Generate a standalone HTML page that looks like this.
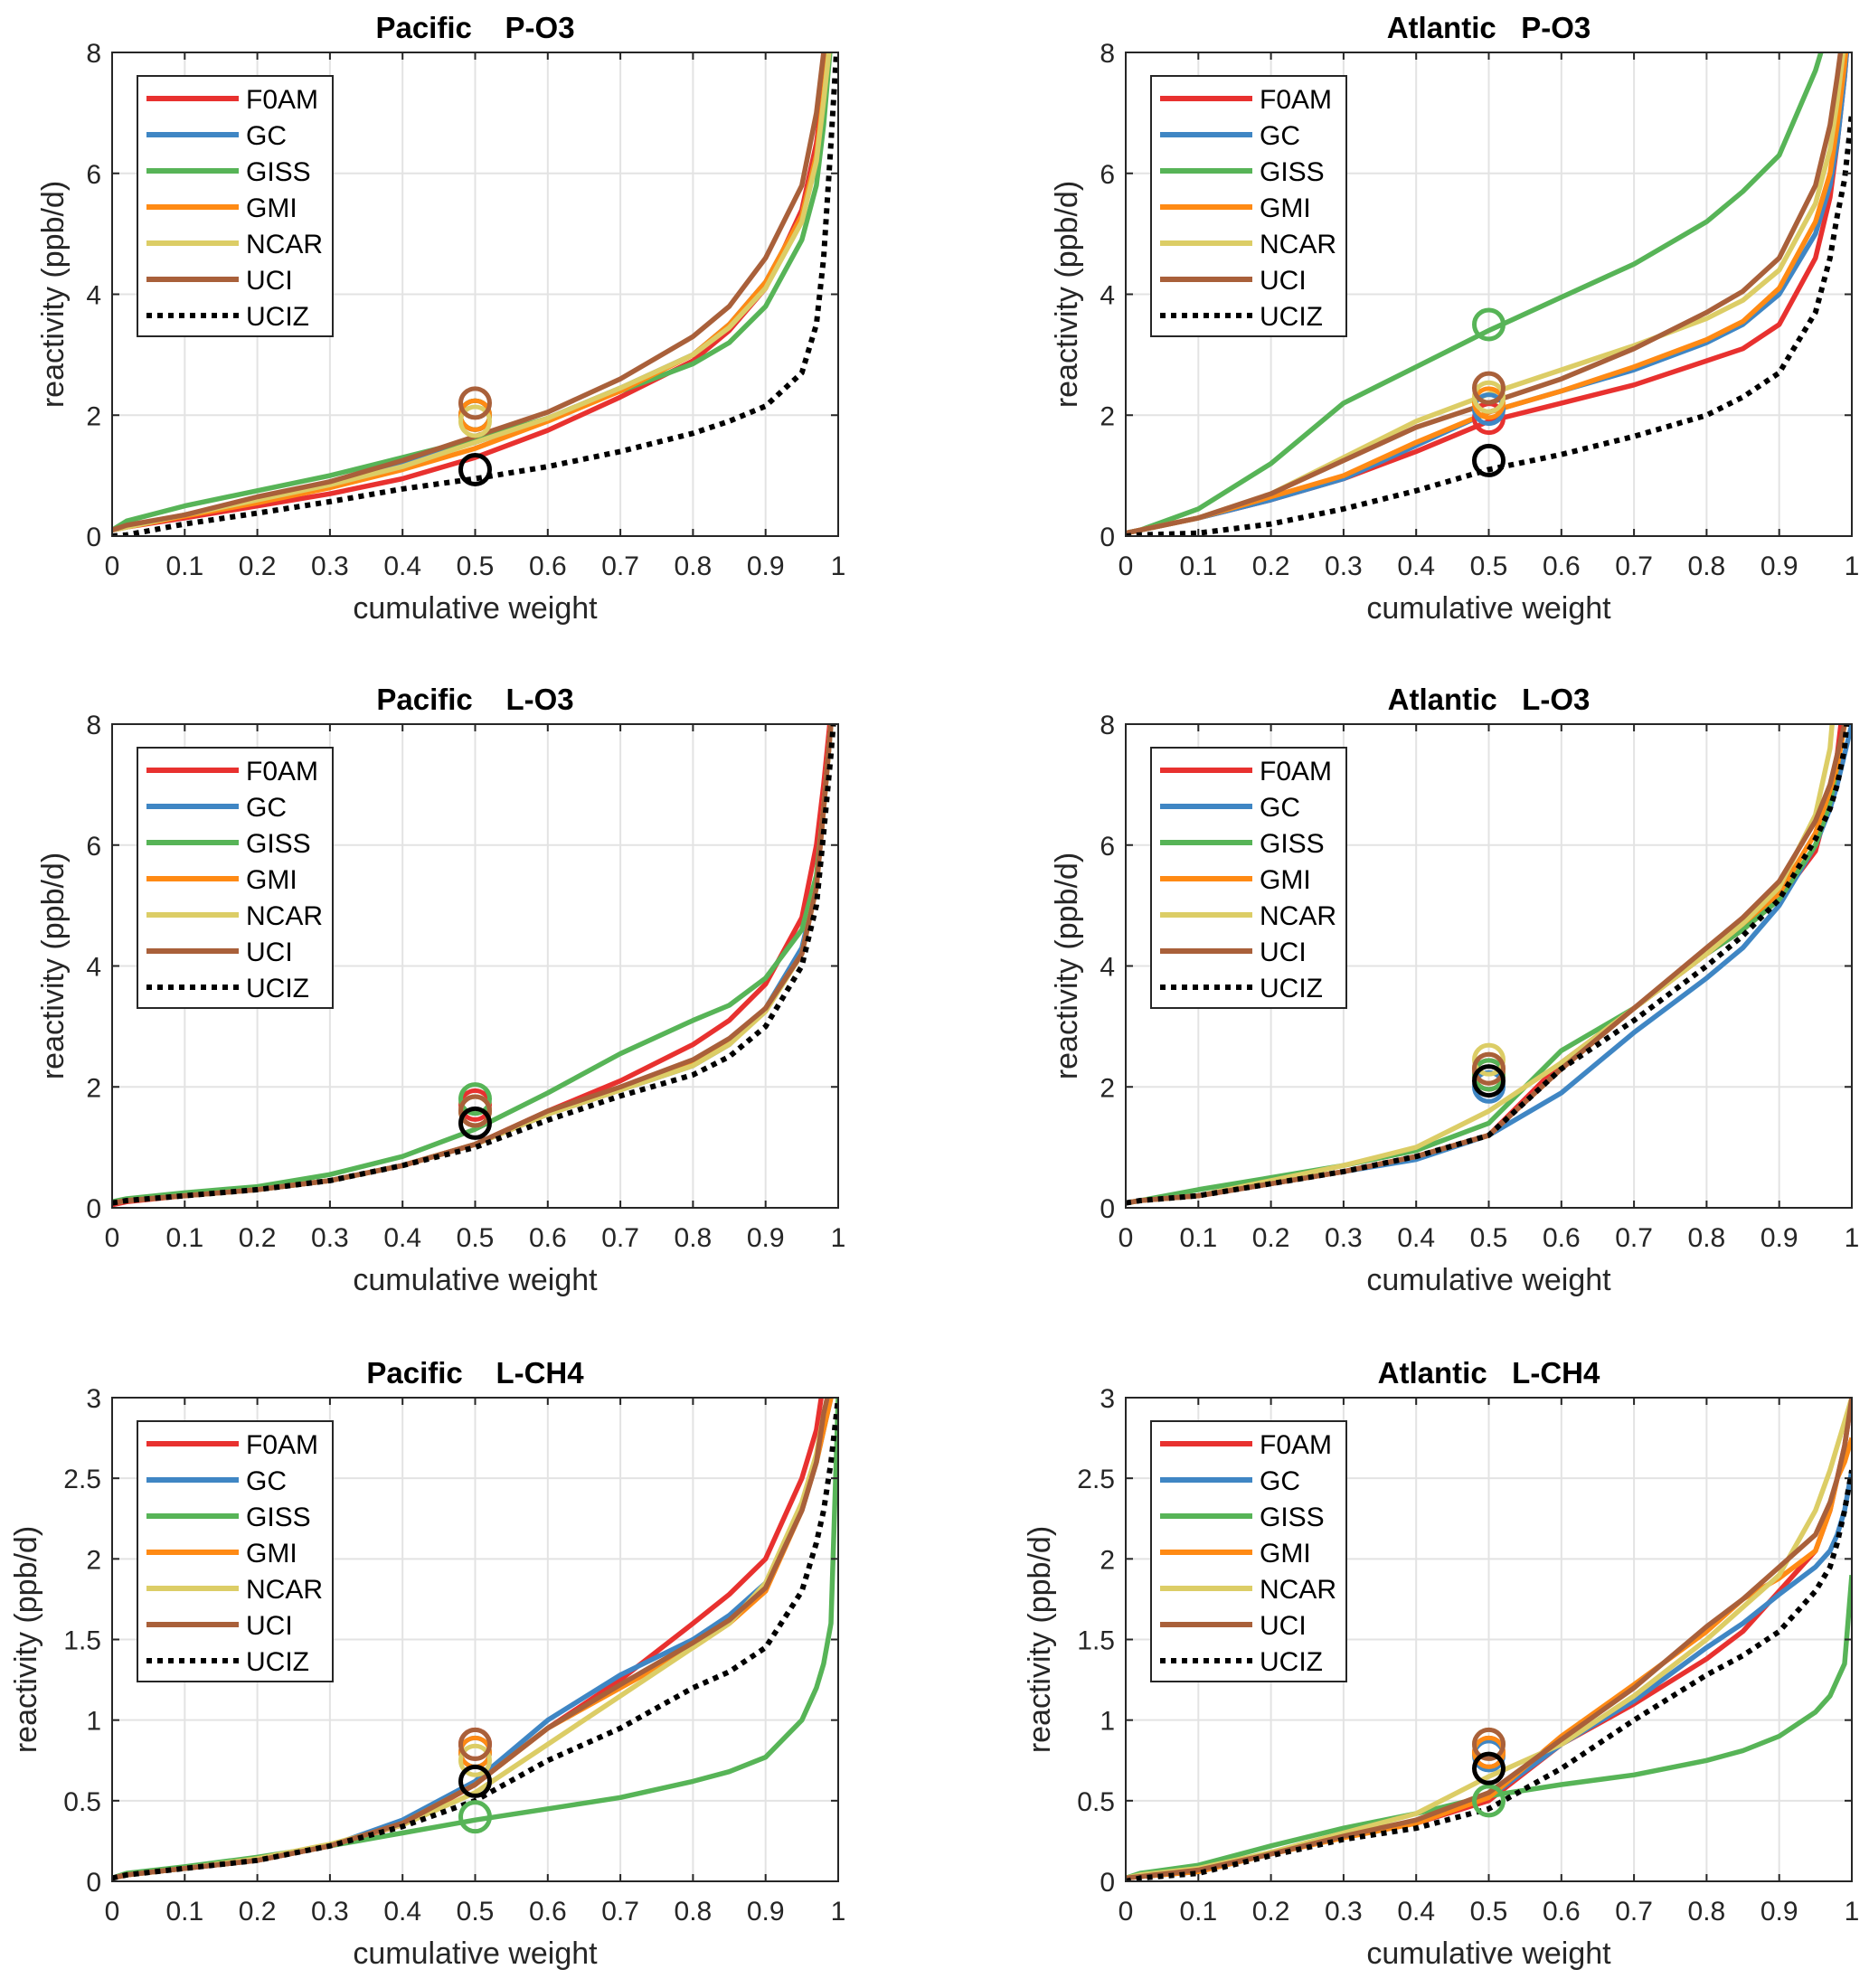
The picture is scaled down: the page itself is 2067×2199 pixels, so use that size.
<!DOCTYPE html>
<html><head><meta charset="utf-8"><style>
html,body{margin:0;padding:0;background:#fff}
svg{display:block;font-family:"Liberation Sans",Arial,sans-serif}
.pre{white-space:pre}
</style></head><body>
<svg id="fig" width="2067" height="2199" viewBox="0 0 2067 2199" xmlns="http://www.w3.org/2000/svg"></svg>
<script>
const xGrid=[0,0.02,0.1,0.2,0.3,0.4,0.5,0.6,0.7,0.8,0.85,0.9,0.95,0.97,0.98,0.99,1];
const seriesNames=["F0AM","GC","GISS","GMI","NCAR","UCI","UCIZ"];
const seriesColors=["#e8312f","#3f86c4","#57b457","#ff8a14","#dccd66","#a9603a","#000000"];
const xTicks=[0,0.1,0.2,0.3,0.4,0.5,0.6,0.7,0.8,0.9,1];
const xTickLabels=["0","0.1","0.2","0.3","0.4","0.5","0.6","0.7","0.8","0.9","1"];
const yTicksO3=[0,2,4,6,8];
const yTickLabelsO3=["0","2","4","6","8"];
const yTicksCH4=[0,0.5,1,1.5,2,2.5,3];
const yTickLabelsCH4=["0","0.5","1","1.5","2","2.5","3"];
const titles=["Pacific    P-O3","Atlantic   P-O3","Pacific    L-O3","Atlantic   L-O3","Pacific    L-CH4","Atlantic   L-CH4"];

const p1=[[0.1,0.15,0.3,0.5,0.7,0.95,1.3,1.75,2.3,2.9,3.4,4.1,5.4,6.5,7.4,8.5,9],
[0.1,0.15,0.35,0.6,0.9,1.2,1.55,1.95,2.45,3.0,3.5,4.2,5.3,6.3,7.2,8.3,9],
[0.1,0.25,0.5,0.75,1.0,1.3,1.6,1.95,2.4,2.85,3.2,3.8,4.9,5.8,6.8,8.2,9],
[0.1,0.15,0.33,0.55,0.8,1.1,1.45,1.9,2.4,3.0,3.5,4.2,5.3,6.3,7.3,8.4,9],
[0.1,0.15,0.35,0.6,0.85,1.15,1.55,1.95,2.45,3.0,3.45,4.1,5.2,6.2,7.2,8.3,9],
[0.1,0.18,0.35,0.65,0.9,1.25,1.65,2.05,2.6,3.3,3.8,4.6,5.8,7.0,8.0,9,9],
[0,0.02,0.2,0.38,0.57,0.78,0.95,1.15,1.4,1.7,1.9,2.15,2.7,3.5,4.6,6.5,8.5]];
const c1=[2.0,2.0,2.0,2.0,1.9,2.2,1.1];
const p2=[[0.05,0.1,0.3,0.6,0.95,1.4,1.9,2.2,2.5,2.9,3.1,3.5,4.6,5.6,6.5,7.6,9],
[0.05,0.1,0.3,0.6,0.95,1.5,2.05,2.4,2.75,3.2,3.5,4.0,5.0,5.8,6.5,7.6,9],
[0.05,0.1,0.45,1.2,2.2,2.8,3.4,3.95,4.5,5.2,5.7,6.3,7.7,8.5,9,9,9],
[0.05,0.1,0.3,0.65,1.0,1.55,2.05,2.4,2.8,3.25,3.55,4.1,5.2,6.0,6.8,7.8,9],
[0.05,0.1,0.3,0.7,1.3,1.9,2.35,2.75,3.15,3.6,3.9,4.4,5.5,6.4,7.2,8.2,9],
[0.05,0.1,0.3,0.7,1.25,1.8,2.2,2.6,3.1,3.7,4.05,4.6,5.8,6.8,7.6,8.5,9],
[0,0.02,0.05,0.2,0.45,0.75,1.1,1.35,1.65,2.0,2.3,2.7,3.7,4.6,5.3,5.9,7]];
const c2=[1.95,2.1,3.5,2.2,2.3,2.45,1.25];
const p3=[[0.05,0.1,0.2,0.3,0.45,0.7,1.05,1.6,2.1,2.7,3.1,3.7,4.8,6.0,7.0,8.2,9],
[0.08,0.12,0.2,0.3,0.45,0.7,1.05,1.55,1.95,2.35,2.7,3.3,4.3,5.3,6.6,8,9],
[0.1,0.15,0.25,0.35,0.55,0.85,1.3,1.9,2.55,3.1,3.35,3.8,4.6,5.5,6.6,8,9],
[0.08,0.12,0.2,0.3,0.45,0.7,1.05,1.55,1.95,2.4,2.75,3.3,4.2,5.3,6.6,8,9],
[0.08,0.12,0.2,0.3,0.45,0.7,1.05,1.55,1.95,2.35,2.7,3.25,4.2,5.3,6.6,8,9],
[0.08,0.12,0.2,0.3,0.45,0.7,1.05,1.6,2.0,2.45,2.8,3.3,4.2,5.3,6.6,8,9],
[0.08,0.12,0.2,0.3,0.45,0.7,1.0,1.45,1.85,2.2,2.5,3.0,4.0,5.0,6.2,7.5,9]];
const c3=[1.7,1.6,1.8,1.6,1.6,1.6,1.4];
const p4=[[0.08,0.12,0.2,0.4,0.6,0.85,1.2,2.4,3.3,4.2,4.6,5.1,5.9,6.8,7.5,8.5,9],
[0.08,0.12,0.2,0.4,0.6,0.8,1.2,1.9,2.9,3.8,4.3,5.0,6.0,6.6,7.0,7.5,8],
[0.08,0.12,0.3,0.5,0.7,0.95,1.4,2.6,3.3,4.2,4.6,5.1,6.0,6.7,7.3,8,9],
[0.08,0.12,0.2,0.4,0.6,0.85,1.2,2.3,3.3,4.2,4.7,5.2,6.2,6.9,7.3,8,9],
[0.08,0.12,0.2,0.45,0.7,1.0,1.6,2.4,3.3,4.2,4.7,5.3,6.5,7.6,9,9,9],
[0.08,0.12,0.2,0.4,0.6,0.85,1.2,2.3,3.3,4.3,4.8,5.4,6.4,7.0,7.5,8,9],
[0.08,0.12,0.2,0.4,0.6,0.85,1.2,2.3,3.1,4.0,4.5,5.1,6.1,6.6,7.0,7.6,9]];
const c4=[2.2,2.0,2.2,2.3,2.45,2.3,2.1];
const p5=[[0.02,0.04,0.08,0.13,0.22,0.35,0.6,0.95,1.25,1.6,1.78,2.0,2.5,2.8,3.1,3.2,3.2],
[0.02,0.04,0.08,0.13,0.22,0.38,0.62,1.0,1.28,1.5,1.65,1.85,2.3,2.6,2.8,3.0,3.2],
[0.02,0.05,0.09,0.15,0.22,0.3,0.38,0.45,0.52,0.62,0.68,0.77,1.0,1.2,1.35,1.6,3],
[0.02,0.04,0.08,0.13,0.22,0.36,0.6,0.95,1.2,1.45,1.6,1.8,2.3,2.6,2.8,3.0,3.2],
[0.02,0.04,0.08,0.14,0.23,0.35,0.55,0.85,1.15,1.45,1.6,1.85,2.35,2.65,2.9,3.1,3.2],
[0.02,0.04,0.08,0.13,0.22,0.36,0.6,0.95,1.22,1.48,1.62,1.82,2.3,2.6,2.9,3.1,3.2],
[0.02,0.04,0.08,0.13,0.22,0.34,0.5,0.75,0.95,1.2,1.3,1.45,1.8,2.1,2.3,2.6,3]];
const c5=[0.85,0.8,0.4,0.8,0.75,0.85,0.62];
const p6=[[0.02,0.03,0.06,0.18,0.28,0.36,0.5,0.85,1.1,1.38,1.55,1.8,2.05,2.3,2.5,2.7,3],
[0.02,0.03,0.06,0.17,0.28,0.37,0.52,0.85,1.12,1.45,1.6,1.78,1.95,2.05,2.15,2.3,2.55],
[0.02,0.05,0.1,0.22,0.33,0.42,0.53,0.6,0.66,0.75,0.81,0.9,1.05,1.15,1.25,1.35,1.9],
[0.02,0.03,0.06,0.17,0.27,0.36,0.52,0.9,1.22,1.55,1.75,1.88,2.05,2.3,2.5,2.6,2.75],
[0.02,0.04,0.08,0.18,0.3,0.42,0.65,0.85,1.15,1.5,1.7,1.9,2.3,2.55,2.7,2.85,3],
[0.02,0.03,0.07,0.17,0.28,0.38,0.55,0.88,1.2,1.58,1.75,1.95,2.15,2.35,2.5,2.7,3],
[0,0.02,0.05,0.16,0.26,0.33,0.45,0.7,1.0,1.28,1.4,1.55,1.8,1.95,2.1,2.3,2.55]];
const c6=[0.8,0.78,0.5,0.8,0.85,0.85,0.7];

const NS="http://www.w3.org/2000/svg";
const svg=document.getElementById('fig');
function mk(tag,attrs,parent){const e=document.createElementNS(NS,tag);for(const k in attrs)e.setAttribute(k,attrs[k]);(parent||svg).appendChild(e);return e;}

const panels=[
 {d:p1,c:c1,ymax:8,yt:yTicksO3,yl:yTickLabelsO3,lo:54},
 {d:p2,c:c2,ymax:8,yt:yTicksO3,yl:yTickLabelsO3,lo:54},
 {d:p3,c:c3,ymax:8,yt:yTicksO3,yl:yTickLabelsO3,lo:54},
 {d:p4,c:c4,ymax:8,yt:yTicksO3,yl:yTickLabelsO3,lo:54},
 {d:p5,c:c5,ymax:3,yt:yTicksCH4,yl:yTickLabelsCH4,lo:84},
 {d:p6,c:c6,ymax:3,yt:yTicksCH4,yl:yTickLabelsCH4,lo:84}];
const lefts=[124,1245], tops=[58,801,1546], W=803, H=535;

panels.forEach((p,i)=>{
 const L=lefts[i%2], T=tops[Math.floor(i/2)];
 const sx=v=>L+v*W, sy=v=>T+H-v/p.ymax*H;
 const g=mk('g',{});
 
 
 const cp=mk('clipPath',{id:'cp'+i},g); mk('rect',{x:L,y:T,width:W,height:H},cp);
 xTicks.forEach(t=>{const l=mk('line',{x1:sx(t),x2:sx(t),y1:T,y2:T+H,stroke:'#e3e3e3','stroke-width':2},g);
  });
 p.yt.forEach(t=>{const l=mk('line',{x1:L,x2:L+W,y1:sy(t),y2:sy(t),stroke:'#e3e3e3','stroke-width':2},g);
  });
 const lg=mk('g',{'clip-path':'url(#cp'+i+')'},g);
 p.d.forEach((ys,s)=>{
  const pts=ys.map((y,k)=>sx(xGrid[k]).toFixed(1)+','+sy(y).toFixed(1)).join(' ');
  const a={points:pts,fill:'none',stroke:seriesColors[s],'stroke-width':5.5,'stroke-linejoin':'round'};
  if(s===6){a['stroke-dasharray']='6 6';a['stroke-width']=6;}
  const pl=mk('polyline',a,lg);
  
  
 });
 p.c.forEach((v,s)=>{
  const c=mk('circle',{cx:sx(0.5),cy:sy(v),r:16,fill:'none',stroke:seriesColors[s],'stroke-width':5},g);
  
  
 });
 const bx=mk('rect',{x:L,y:T,width:W,height:H,fill:'none',stroke:'#262626','stroke-width':2},g);
 
 xTicks.forEach((t,k)=>{
  mk('line',{x1:sx(t),x2:sx(t),y1:T+H,y2:T+H-8,stroke:'#262626','stroke-width':2},g);
  mk('line',{x1:sx(t),x2:sx(t),y1:T,y2:T+8,stroke:'#262626','stroke-width':2},g);
  const tx=mk('text',{x:sx(t),y:T+H+43,'text-anchor':'middle','font-size':30,fill:'#262626'},g);
  tx.textContent=xTickLabels[k];
  
 });
 p.yt.forEach((t,k)=>{
  mk('line',{x1:L,x2:L+8,y1:sy(t),y2:sy(t),stroke:'#262626','stroke-width':2},g);
  mk('line',{x1:L+W,x2:L+W-8,y1:sy(t),y2:sy(t),stroke:'#262626','stroke-width':2},g);
  const tx=mk('text',{x:L-12,y:sy(t)+11,'text-anchor':'end','font-size':30,fill:'#262626'},g);
  tx.textContent=p.yl[k];
  
 });
 const ti=mk('text',{x:L+W/2,y:T-16,'text-anchor':'middle','font-size':33,'font-weight':'bold',fill:'#000','class':'pre'},g);
 ti.textContent=titles[i];
 
 const xl=mk('text',{x:L+W/2,y:T+H+91,'text-anchor':'middle','font-size':34,fill:'#262626'},g);
 xl.textContent='cumulative weight';
 
 const yx=L-p.lo, yy=T+H/2;
 const yl=mk('text',{x:yx,y:yy,'text-anchor':'middle','font-size':34,fill:'#262626',transform:'rotate(-90 '+yx+' '+yy+')'},g);
 yl.textContent='reactivity (ppb/d)';
 
 const lgd=mk('g',{},g);
 
 mk('rect',{x:L+28,y:T+26,width:216,height:288,fill:'#fff',stroke:'#262626','stroke-width':2},lgd);
 seriesNames.forEach((n,s)=>{
  const y=T+51+s*40;
  const a={x1:L+38,x2:L+140,y1:y,y2:y,stroke:seriesColors[s],'stroke-width':6};
  if(s===6)a['stroke-dasharray']='6 6';
  const ln=mk('line',a,lgd);
  
  const tx=mk('text',{x:L+148,y:y+11,'font-size':30,fill:'#000'},lgd);
  tx.textContent=n;
  
 });
});
</script>
</body></html>
